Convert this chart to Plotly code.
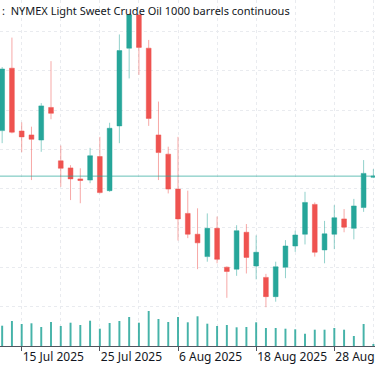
import plotly.graph_objects as go

# ---------------- data ----------------
dates = ["2025-07-11", "2025-07-14", "2025-07-15", "2025-07-16", "2025-07-17", "2025-07-18",
         "2025-07-21", "2025-07-22", "2025-07-23", "2025-07-24", "2025-07-25",
         "2025-07-28", "2025-07-29", "2025-07-30", "2025-07-31", "2025-08-01",
         "2025-08-04", "2025-08-05", "2025-08-06", "2025-08-07", "2025-08-08",
         "2025-08-11", "2025-08-12", "2025-08-13", "2025-08-14", "2025-08-15",
         "2025-08-18", "2025-08-19", "2025-08-20", "2025-08-21", "2025-08-22",
         "2025-08-25", "2025-08-26", "2025-08-27", "2025-08-28", "2025-08-29",
         "2025-09-01", "2025-09-02", "2025-09-03"]

open_ = [67.48, 69.07, 67.47, 67.37, 67.24, 68.07, 66.71, 66.53, 66.25, 66.22, 66.82,
         65.95, 67.60, 69.58, 70.43, 69.58, 67.37, 66.88, 65.99, 65.37, 64.84,
         64.27, 64.99, 64.00, 63.95, 64.89, 64.03, 63.74, 63.25, 64.00, 64.54,
         64.84, 65.60, 64.44, 64.84, 65.23, 64.99, 65.52, 66.29]
high = [69.10, 69.85, 67.69, 67.58, 68.18, 69.25, 67.10, 66.60, 66.52, 67.04, 67.32,
        67.68, 69.93, 70.43, 70.43, 69.79, 68.22, 67.07, 67.32, 65.95, 65.50,
        65.37, 65.29, 64.02, 65.07, 65.10, 64.81, 63.83, 64.14, 64.69, 64.93,
        65.92, 65.65, 65.18, 65.58, 65.48, 65.74, 66.73, 66.50]
low = [67.16, 67.41, 66.93, 66.22, 66.94, 67.77, 66.05, 65.71, 65.63, 66.14, 65.88,
       65.92, 67.16, 68.81, 68.90, 67.60, 66.22, 65.88, 64.68, 64.74, 63.95,
       64.14, 64.10, 63.22, 63.78, 63.84, 63.69, 62.98, 63.12, 63.72, 64.39,
       64.58, 64.27, 64.10, 64.46, 64.89, 64.71, 65.41, 66.27]
close = [69.05, 67.44, 67.32, 67.26, 68.11, 67.92, 66.52, 66.25, 66.21, 66.84, 65.90,
         67.54, 69.52, 70.43, 69.60, 67.79, 66.92, 65.99, 65.23, 64.84, 64.62,
         64.99, 64.20, 63.89, 64.93, 64.25, 64.38, 63.25, 64.01, 64.54, 64.82,
         65.65, 64.38, 64.85, 65.26, 65.02, 65.56, 66.39, 66.32]
volume_k = [203, 250, 220, 227, 190, 240, 200, 233, 210, 253, 173,
            230, 250, 290, 233, 350, 270, 240, 290, 237, 297,
            223, 200, 210, 187, 190, 237, 180, 180, 173, 167,
            123, 163, 163, 180, 163, 100, 220, 20]

tick_idx = [2, 10, 18, 26, 34]
tick_labels = ["15 Jul 2025", "25 Jul 2025", "6 Aug 2025", "18 Aug 2025", "28 Aug 2025"]
grid_idx = [2, 6, 10, 14, 18, 22, 26, 30, 34, 38]
price_grid = [63, 64, 65, 66, 67, 68, 69, 70]
last_price = 66.32
title_text = ":  NYMEX Light Sweet Crude Oil 1000 barrels continuous"

UP = "#26a69a"
DOWN = "#ef5350"
GRID = "#e9ebef"
FONT = "Noto Sans"

x = list(range(len(dates)))

fig = go.Figure()

fig.add_trace(go.Bar(
    x=x, y=volume_k, width=0.2, yaxis="y2",
    marker=dict(color="rgba(38,166,154,0.85)", line=dict(width=0)),
    hoverinfo="skip",
))

fig.add_trace(go.Candlestick(
    x=x, open=open_, high=high, low=low, close=close,
    whiskerwidth=0,
    increasing=dict(line=dict(color="rgba(38,166,154,0.5)", width=1), fillcolor=UP),
    decreasing=dict(line=dict(color="rgba(239,83,80,0.5)", width=1), fillcolor=DOWN),
))

fig.add_shape(type="line", xref="paper", x0=0, x1=1, yref="y", y0=last_price, y1=last_price,
              line=dict(color="rgba(38,166,154,0.7)", width=1))

fig.add_annotation(text=title_text, xref="paper", yref="paper", x=0, y=0.971,
                   xanchor="left", yanchor="middle", xshift=0, showarrow=False,
                   font=dict(family=FONT, size=11, color="#131722"))

fig.update_layout(
    width=375, height=366,
    margin=dict(l=0, r=0, t=0, b=20),
    paper_bgcolor="white", plot_bgcolor="white",
    showlegend=False,
    boxgap=0.3,
    xaxis=dict(
        range=[-0.221, 38.165],
        tickmode="array", tickvals=tick_idx, ticktext=tick_labels,
        tickangle=0, automargin=False,
        ticklabelposition="outside right", ticklabeloverflow="allow",
        ticks="outside", ticklen=4, tickcolor="#50535e", tickwidth=1,
        showline=True, linecolor="#50535e", linewidth=1,
        showgrid=True, gridcolor=GRID, griddash="dot", gridwidth=1,
        minor=dict(tickvals=grid_idx, showgrid=True, gridcolor=GRID, griddash="dot", ticks=""),
        zeroline=False,
        rangeslider=dict(visible=False),
        tickfont=dict(family=FONT, size=12, color="#131722"),
    ),
    yaxis=dict(
        range=[61.992, 70.808], automargin=False,
        tickmode="array", tickvals=price_grid, showticklabels=False,
        showgrid=True, gridcolor=GRID, griddash="dot", gridwidth=1,
        zeroline=False, showline=False,
    ),
    yaxis2=dict(range=[0, 3460], overlaying="y", visible=False, showgrid=False),
)

fig.write_html("out.html", config={"displayModeBar": False},
               post_script="document.body.style.margin='0';")
